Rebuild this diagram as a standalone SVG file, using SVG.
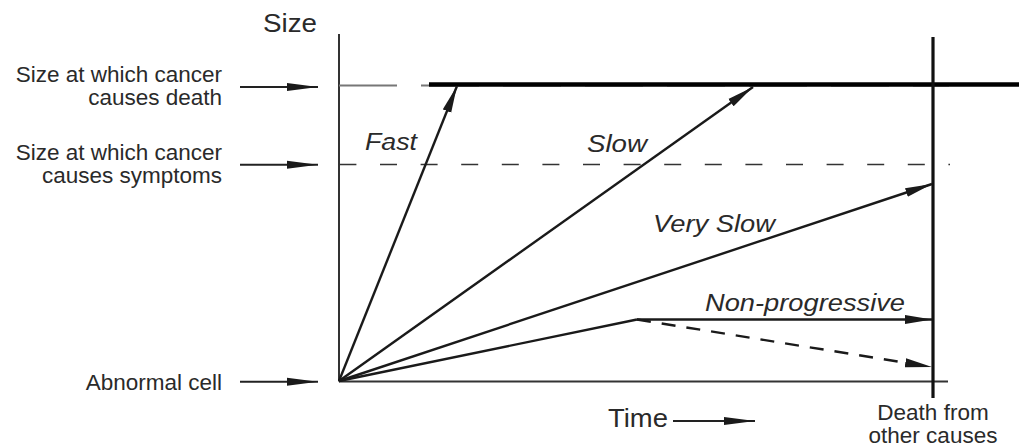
<svg xmlns="http://www.w3.org/2000/svg" width="1019" height="448" viewBox="0 0 1019 448">
<style>
.lbl{font-family:"Liberation Sans",Arial,sans-serif;font-size:22.5px;fill:#2a2a2a}
.it{font-family:"Liberation Sans",Arial,sans-serif;font-size:24.5px;font-style:italic;fill:#2a2a2a}
.ln{stroke:#1a1a1a;stroke-width:2.4;fill:none}
.ax{stroke:#333;stroke-width:2;fill:none}
.pt{stroke:#222;stroke-width:2;fill:none}
</style>
<defs>
<marker id="ah" markerUnits="userSpaceOnUse" markerWidth="28" markerHeight="10" viewBox="0 0 28 10" refX="27" refY="5" orient="auto">
<path d="M0,0.5 L27,5 L0,9.5 z" fill="#1a1a1a"/>
</marker>
<marker id="ahl" markerUnits="userSpaceOnUse" markerWidth="32" markerHeight="10" viewBox="0 0 32 10" refX="31" refY="5" orient="auto">
<path d="M0,1 L31,5 L0,9 z" fill="#1a1a1a"/>
</marker>
</defs>
<rect width="1019" height="448" fill="#fff"/>

<g id="axes">
<line class="ax" x1="339" y1="34" x2="339" y2="381.5"/>
<line class="ax" x1="339" y1="381.5" x2="948" y2="381.5"/>
<text class="lbl" x="263" y="32" style="font-size:26px" textLength="54" lengthAdjust="spacingAndGlyphs">Size</text>
</g>

<g id="death-level">
<line x1="339" y1="85.5" x2="949" y2="85.5" stroke="#777" stroke-width="1.8" stroke-dasharray="58 24"/>
<line x1="429" y1="84.5" x2="1019" y2="84.5" stroke="#000" stroke-width="4.5"/>
</g>

<g id="symptom-level">
<line x1="339.4" y1="164.5" x2="950" y2="164.5" stroke="#333" stroke-width="1.6" stroke-dasharray="17 23.6"/>
</g>

<g id="other-death">
<line x1="933" y1="37" x2="933" y2="398" stroke="#111" stroke-width="3.2"/>
<text class="lbl" text-anchor="middle"><tspan x="933" y="420">Death from</tspan><tspan x="933" y="443">other causes</tspan></text>
</g>

<g id="label-death">
<text class="lbl" text-anchor="end"><tspan x="222" y="81.5">Size at which cancer</tspan><tspan x="222" y="104.5">causes death</tspan></text>
</g>
<g id="label-symptoms">
<text class="lbl" text-anchor="end"><tspan x="222" y="160">Size at which cancer</tspan><tspan x="222" y="183">causes symptoms</tspan></text>
</g>
<g id="label-abnormal">
<text class="lbl" x="222" y="390" text-anchor="end">Abnormal cell</text>
</g>
<g id="label-time">
<text class="lbl" x="608" y="427" style="font-size:26px" textLength="60" lengthAdjust="spacingAndGlyphs">Time</text>
</g>

<g id="label-fast"><text class="it" x="365" y="150" textLength="52" lengthAdjust="spacingAndGlyphs">Fast</text></g>
<g id="label-slow"><text class="it" x="587" y="152" textLength="60" lengthAdjust="spacingAndGlyphs">Slow</text></g>
<g id="label-veryslow"><text class="it" x="653" y="232" textLength="122" lengthAdjust="spacingAndGlyphs">Very Slow</text></g>
<g id="label-nonprog"><text class="it" x="705" y="311" textLength="200" lengthAdjust="spacingAndGlyphs">Non-progressive</text></g>

<g id="connectors">
<line class="pt" x1="240" y1="87" x2="318" y2="87" marker-end="url(#ahl)"/>
<line class="pt" x1="240" y1="164.7" x2="318" y2="164.7" marker-end="url(#ahl)"/>
<line class="pt" x1="240" y1="381.7" x2="318" y2="381.7" marker-end="url(#ahl)"/>
<line class="pt" x1="673" y1="421" x2="755" y2="421" marker-end="url(#ahl)"/>

<line class="ln" x1="339" y1="381" x2="457" y2="86" marker-end="url(#ah)"/>
<line class="ln" x1="339" y1="381" x2="753" y2="87" marker-end="url(#ah)"/>
<line class="ln" x1="339" y1="381" x2="932" y2="184" marker-end="url(#ah)"/>
<line class="ln" x1="339" y1="381" x2="637" y2="319.5"/>
<line class="ln" x1="637" y1="319.5" x2="932" y2="319.5" marker-end="url(#ah)"/>
<line class="ln" x1="637" y1="319.5" x2="932" y2="367" stroke-width="2.6" stroke-dasharray="14 11" marker-end="url(#ah)"/>
</g>
</svg>
